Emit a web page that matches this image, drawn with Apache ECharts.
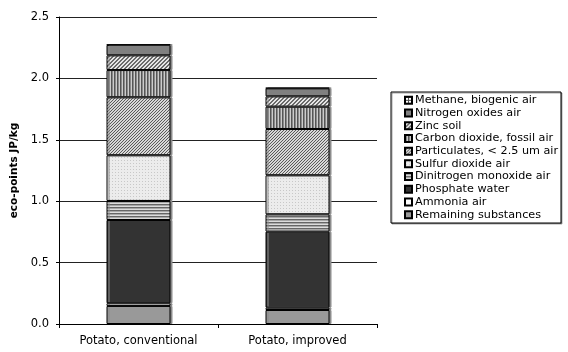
<!DOCTYPE html>
<html>
<head>
<meta charset="utf-8">
<script src="https://cdn.jsdelivr.net/npm/echarts@6/dist/echarts.min.js"></script>
<style>
  html, body { margin: 0; padding: 0; background: #fff; }
  #chart { width: 568px; height: 352px; }
</style>
</head>
<body>
<div id="chart"></div>
<script>
// Products compared
const categories = ['Potato, conventional', 'Potato, improved'];

// Contributions per substance (eco-points JP/kg), stacked from bottom to top
const remainingSubstances = [0.147, 0.114];
const ammoniaAir = [0.022, 0.019];
const phosphateWater = [0.678, 0.619];
const dinitrogenMonoxideAir = [0.155, 0.141];
const sulfurDioxideAir = [0.372, 0.318];
const particulatesAir = [0.472, 0.377];
const carbonDioxideFossilAir = [0.222, 0.182];
const zincSoil = [0.120, 0.084];
const nitrogenOxidesAir = [0.084, 0.065];
const methaneBiogenicAir = [0.004, 0.004];

const yTicks = [0, 0.5, 1.0, 1.5, 2.0, 2.5];

// Small repeating canvas fills for the hatched segments
function pattern(w, h, draw) {
  const c = document.createElement('canvas');
  c.width = w; c.height = h;
  const g = c.getContext('2d');
  draw(g, w, h);
  return { image: c, repeat: 'repeat' };
}

const fills = {
  methane: pattern(3, 3, (g) => {
    g.fillStyle = '#ffffff'; g.fillRect(0, 0, 3, 3);
    g.fillStyle = '#555555'; g.fillRect(0, 0, 3, 1); g.fillRect(0, 0, 1, 3);
  }),
  nox: '#808080',
  zinc: pattern(4, 4, (g) => {
    g.fillStyle = '#e6e6e6'; g.fillRect(0, 0, 4, 4);
    g.fillStyle = '#6a6a6a';
    for (let i = 0; i < 4; i++) { g.fillRect(i, (i * 3) % 4, 1, 1); g.fillRect(i, (i * 3 + 1) % 4, 1, 1); }
  }),
  co2: pattern(3, 3, (g) => {
    g.fillStyle = '#cccccc'; g.fillRect(0, 0, 3, 3);
    g.fillStyle = '#555555'; g.fillRect(0, 0, 1, 3);
    g.fillStyle = '#8a8a8a'; g.fillRect(1, 0, 1, 3);
  }),
  particulates: pattern(3, 3, (g) => {
    g.fillStyle = '#d8d8d8'; g.fillRect(0, 0, 3, 3);
    g.fillStyle = '#5a5a5a';
    for (let i = 0; i < 3; i++) g.fillRect(i, 2 - i, 1, 1);
  }),
  sulfur: pattern(3, 3, (g) => {
    g.fillStyle = '#ececec'; g.fillRect(0, 0, 3, 3);
    g.fillStyle = '#c8c8c8'; g.fillRect(1, 1, 1, 1);
  }),
  dinitrogen: pattern(3, 3, (g) => {
    g.fillStyle = '#dcdcdc'; g.fillRect(0, 0, 3, 3);
    g.fillStyle = '#666666'; g.fillRect(0, 0, 3, 1);
    g.fillStyle = '#a8a8a8'; g.fillRect(0, 1, 3, 1);
  }),
  phosphate: '#333333',
  ammonia: '#ffffff',
  remaining: '#999999'
};

const stackSeries = [
  ['Remaining substances', remainingSubstances, fills.remaining],
  ['Ammonia air', ammoniaAir, fills.ammonia],
  ['Phosphate water', phosphateWater, fills.phosphate],
  ['Dinitrogen monoxide air', dinitrogenMonoxideAir, fills.dinitrogen],
  ['Sulfur dioxide air', sulfurDioxideAir, fills.sulfur],
  ['Particulates, < 2.5 um air', particulatesAir, fills.particulates],
  ['Carbon dioxide, fossil air', carbonDioxideFossilAir, fills.co2],
  ['Zinc soil', zincSoil, fills.zinc],
  ['Nitrogen oxides air', nitrogenOxidesAir, fills.nox],
  ['Methane, biogenic air', methaneBiogenicAir, fills.methane]
];

const font = 'DejaVu Sans';

const chart = echarts.init(document.getElementById('chart'), null, { renderer: 'canvas' });
chart.setOption({
  animation: false,
  backgroundColor: '#ffffff',
  grid: { left: 59, right: 191, top: 17, bottom: 28, containLabel: false },
  legend: {
    orient: 'vertical',
    left: 391, top: 92,
    padding: [2, 3, 2, 13],
    borderColor: '#000', borderWidth: 1,
    backgroundColor: '#fff',
    shadowColor: 'rgba(0,0,0,0.35)', shadowOffsetX: 1, shadowOffsetY: 1,
    icon: 'rect',
    itemWidth: 7, itemHeight: 7, itemGap: 0,
    textStyle: { fontFamily: font, fontSize: 11.2, lineHeight: 12.7, color: '#000', padding: [0, 0, 0, -2] },
    data: stackSeries.map(s => s[0]).reverse()
  },
  xAxis: {
    type: 'category',
    data: categories,
    axisLine: { lineStyle: { color: '#000', width: 1 } },
    axisTick: { show: true, length: 4, inside: false, lineStyle: { color: '#000' } },
    axisLabel: { fontFamily: font, fontSize: 11.5, color: '#000', margin: 11 }
  },
  yAxis: {
    type: 'value',
    min: yTicks[0], max: yTicks[yTicks.length - 1], interval: 0.5,
    name: 'eco-points JP/kg',
    nameLocation: 'middle', nameGap: 38, nameRotate: 90,
    nameTextStyle: { fontFamily: font, fontSize: 10.5, fontWeight: 'bold', color: '#000' },
    axisLine: { show: true, lineStyle: { color: '#000', width: 1 } },
    axisTick: { show: true, length: 3, lineStyle: { color: '#000' } },
    axisLabel: { fontFamily: font, fontSize: 11.5, color: '#000', margin: 10,
      formatter: v => v.toFixed(1) },
    splitLine: { show: true, lineStyle: { color: '#222', width: 1 } }
  },
  series: stackSeries.map(([name, values, color]) => ({
    name,
    type: 'bar',
    stack: 'total',
    barWidth: 64,
    data: values,
    itemStyle: {
      color,
      borderColor: '#000', borderWidth: 1,
      shadowColor: '#8c8c8c', shadowOffsetX: 2, shadowOffsetY: 0, shadowBlur: 0
    },
    emphasis: { disabled: true }
  }))
});
</script>
</body>
</html>
